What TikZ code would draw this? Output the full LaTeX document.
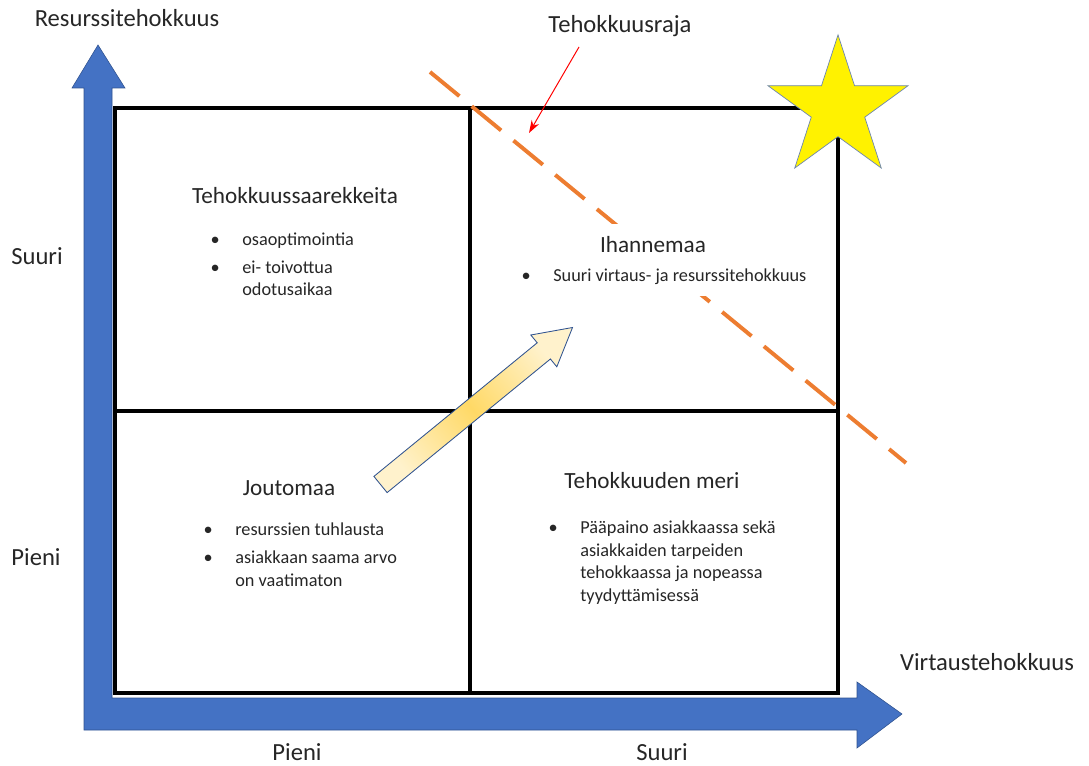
\documentclass[tikz,border=0pt]{standalone}
\usepackage{fontspec}
\setmainfont{Carlito}
\usepackage{tikz}
\usetikzlibrary{arrows.meta, shapes.geometric, calc}
\usepackage{xcolor}
\definecolor{axisblue}{RGB}{68,114,196}
\definecolor{edgeblue}{RGB}{47,82,143}
\definecolor{rajaorange}{RGB}{237,125,49}
\definecolor{lightgold}{RGB}{255,242,204}
\definecolor{deepgold}{RGB}{255,217,102}
\definecolor{textgray}{RGB}{38,38,38}
\tikzset{
    axislabel/.style={font=\fontsize{17.5}{20}\selectfont, text=textgray, inner sep=0pt, anchor=base},
    zonetitle/.style={font=\fontsize{16.5}{19}\selectfont, text=textgray, inner sep=0pt, anchor=base},
    zonelist/.style={font=\fontsize{13}{16}\selectfont, text=textgray, inner sep=0pt, anchor=base west, align=left},
    gridline/.style={line width=2.6pt, black},
}
\newcommand{\itm}{\makebox[22.5pt][l]{\textbullet}}
\newcommand{\itmpad}{\hspace*{22.5pt}}

\begin{document}
\begin{tikzpicture}[x=0.025cm, y=-0.025cm]
    \useasboundingbox (0,0) rectangle (1089,766);
    % axes
    \fill[axisblue, draw=edgeblue, line width=0.4pt]
      (84,730) -- (84,88) -- (72,88) -- (98,45) -- (125,88) -- (112,88)
      -- (112,698) -- (857,698) -- (857,682) -- (902,714) -- (857,748)
      -- (857,730) -- cycle;
    % quadrants
    \draw[gridline] (115,108) rectangle (838,693);
    \draw[gridline] (470,108) -- (470,693);
    \draw[gridline] (115,411) -- (838,411);
    \node[star, star points=5, star point ratio=2.618, minimum size=3.68cm,
          inner sep=0pt, fill=yellow, draw=edgeblue!70, line width=0.5pt]
      (tahti) at (838,108.5) {};
    % efficiency frontier
    \draw[rajaorange, line width=2.8pt, dash pattern=on 0.95cm off 0.4cm]
      (430,72) -- (906,463);
    \fill[white] (515,224) rectangle (820,296);
    \node[axislabel] (raja) at (620,33) {Tehokkuusraja};
    \coordinate (rajastart) at (579,47);
    \coordinate (rajatip) at (529,133);
    \draw[red, line width=0.7pt, -{Stealth[length=9pt, width=6pt]}]
      (rajastart) -- (rajatip);
    % direction arrow
    \shadedraw[left color=lightgold, right color=lightgold, middle color=deepgold,
               shading angle=129, draw=edgeblue, line width=0.6pt]
      (387.1,492.6) -- (550.4,359.0) -- (556.8,366.8) -- (572.5,327.5)
      -- (530.8,335.0) -- (537.2,342.8) -- (373.9,476.4) -- cycle;
    % axis names
    \node[axislabel] (yname) at (127,27) {Resurssitehokkuus};
    \node[axislabel] (xname) at (987,670) {Virtaustehokkuus};
    \node[axislabel] (ysuuri) at (37,265) {Suuri};
    \node[axislabel] (ypieni) at (36,565) {Pieni};
    \node[axislabel] (xpieni) at (297,760) {Pieni};
    \node[axislabel] (xsuuri) at (662,760) {Suuri};
    % zones (lists placed by the baseline of their last line)
    \node[zonetitle] (saarekkeet) at (295,204) {Tehokkuussaarekkeita};
    \node[zonelist] (saarekkeetlist) at (210.4,296)
      {\itm osaoptimointia\\[4pt] \itm ei- toivottua\\ \itmpad odotusaikaa};
    \node[zonetitle] (ihanne) at (653,253) {Ihannemaa};
    \node[zonelist] (ihannelist) at (521.4,282)
      {\itm Suuri virtaus- ja resurssitehokkuus};
    \node[zonetitle] (jouto) at (289,495) {Joutomaa};
    \node[zonelist] (joutolist) at (203.4,586)
      {\itm resurssien tuhlausta\\[4pt] \itm asiakkaan saama arvo\\ \itmpad on vaatimaton};
    \node[zonetitle] (meri) at (652,488) {Tehokkuuden meri};
    \node[zonelist] (merilist) at (548.4,601)
      {\itm Pääpaino asiakkaassa sekä\\ \itmpad asiakkaiden tarpeiden\\
       \itmpad tehokkaassa ja nopeassa\\ \itmpad tyydyttämisessä};
\end{tikzpicture}
\end{document}
